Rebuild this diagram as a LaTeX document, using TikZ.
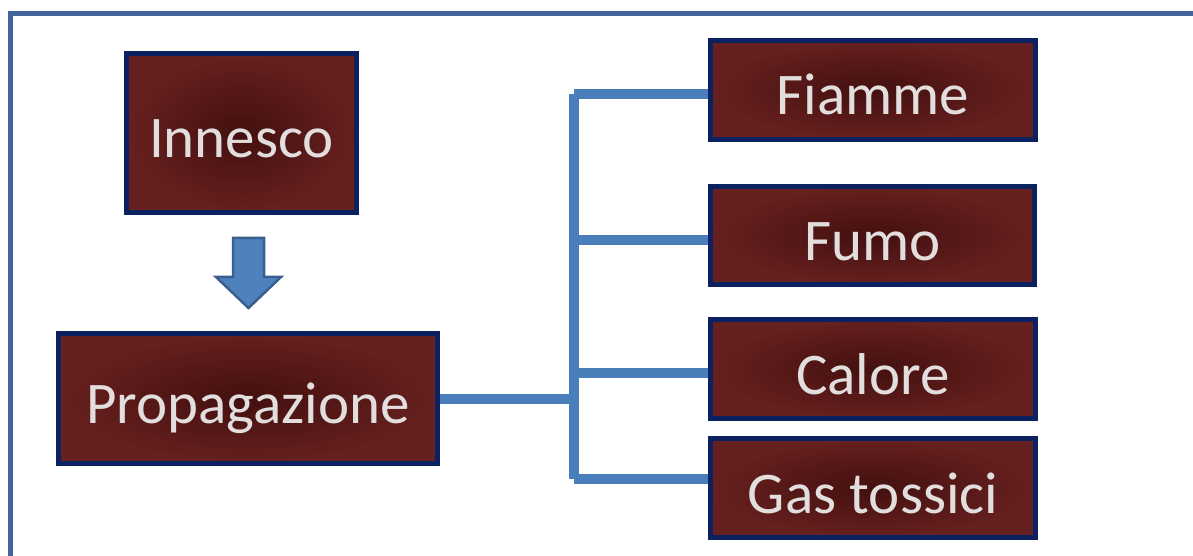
\documentclass[tikz,border=0pt]{standalone}
\usepackage{fontspec}
\setmainfont{Carlito}
\definecolor{framec}{HTML}{41649A}
\definecolor{boxborder}{HTML}{0B2160}
\definecolor{boxin}{HTML}{43100F}
\definecolor{boxout}{HTML}{66201F}
\definecolor{linkc}{HTML}{4A7EBB}
\definecolor{arrowfill}{HTML}{4F81BD}
\definecolor{arrowedge}{HTML}{3A5F8F}
\definecolor{txt}{HTML}{E2DEDE}
\tikzset{
  box/.style={draw=boxborder, line width=5bp, inner color=boxin, outer color=boxout,
    text=txt, font=\fontsize{59bp}{64bp}\selectfont, inner sep=0pt,
    text height=50bp, text depth=0bp},
  link/.style={draw=linkc, line width=10bp},
}
\begin{document}
\begin{tikzpicture}[x=1bp,y=-1bp]
\useasboundingbox (0,0) rectangle (1193,556);
\draw[framec, line width=5bp] (10,560) -- (10,13.5) -- (1197,13.5);
\node[box, minimum width=230bp, minimum height=159bp] (inn) at (241.5,133) {Innesco};
\node[box, minimum width=379bp, minimum height=130bp] (prop) at (248,398.5) {Propagazione};
\node[box, minimum width=325bp, minimum height=99bp] (fia) at (873,90) {Fiamme};
\node[box, minimum width=324bp, minimum height=98bp] (fum) at (872.5,235.5) {Fumo};
\node[box, minimum width=325bp, minimum height=99bp] (cal) at (873,369) {Calore};
\node[box, minimum width=325bp, minimum height=99bp] (gas) at (873,488) {Gas tossici};
\coordinate (sp) at (574,0);
\draw[link] (prop.east |- 0,399) -- (sp |- 0,399);
\draw[link] (sp |- 0,94) -- (sp |- 0,479);
\draw[link] (sp |- 0,94) -- (fia.west |- 0,94);
\draw[link] (sp |- 0,240) -- (fum.west |- 0,240);
\draw[link] (sp |- 0,373) -- (cal.west |- 0,373);
\draw[link] (sp |- 0,479) -- (gas.west |- 0,479);
\draw[fill=arrowfill, draw=arrowedge, line width=2.5bp, line join=miter]
  (233,238) -- (264,238) -- (264,277) -- (281,277) -- (248.5,308) -- (216,277) -- (233,277) -- cycle;
\end{tikzpicture}
\end{document}
